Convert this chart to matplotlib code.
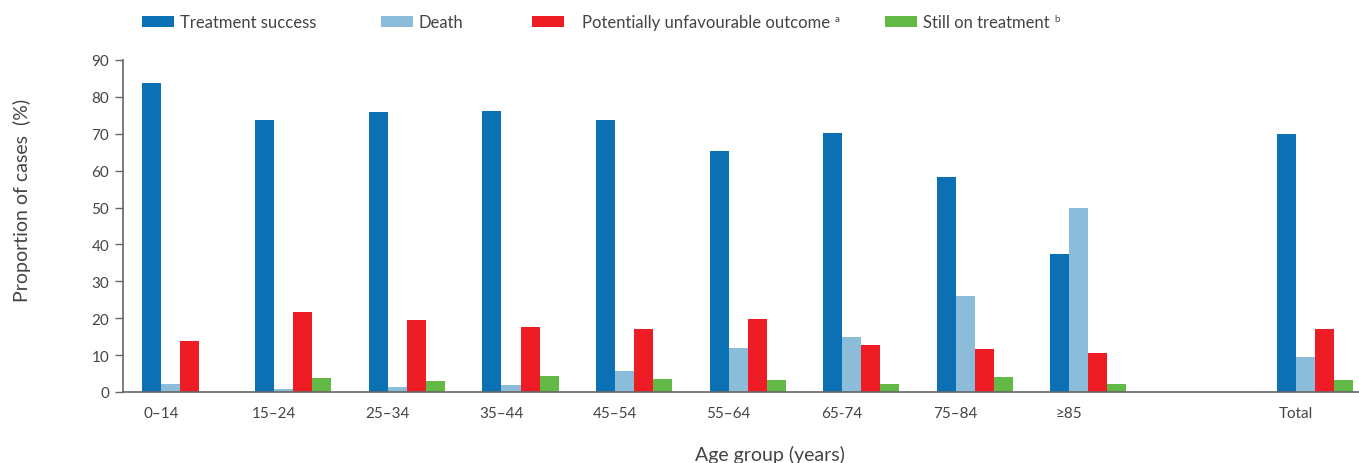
import numpy as np
import matplotlib.pyplot as plt
from matplotlib.patches import Rectangle

plt.rcParams['font.family'] = ['Lato', 'DejaVu Sans']

age_groups = ['0–14', '15–24', '25–34', '35–44', '45–54', '55–64', '65-74', '75–84', '≥85', 'Total']
group_pos = [0, 1, 2, 3, 4, 5, 6, 7, 8, 10]

treatment_success = [83.8, 73.8, 76.0, 76.3, 73.8, 65.2, 70.3, 58.4, 37.3, 70.0]
death = [2.2, 0.8, 1.4, 1.9, 5.7, 12.0, 14.8, 25.9, 49.8, 9.4]
unfavourable = [13.8, 21.6, 19.5, 17.6, 17.0, 19.8, 12.7, 11.6, 10.7, 17.0]
still_on = [0.0, 3.8, 3.0, 4.3, 3.5, 3.2, 2.1, 4.0, 2.1, 3.2]

series = [treatment_success, death, unfavourable, still_on]
colors = ['#0b71b4', '#8bbcd9', '#ee1c25', '#62b946']
labels = ['Treatment success', 'Death', 'Potentially unfavourable outcome', 'Still on treatment']
notes = ['', '', 'a', 'b']

text_col = '#444444'
axis_col = '#666666'

fig = plt.figure(figsize=(13.59, 4.64), dpi=100)
ax = fig.add_axes([123 / 1359, 71 / 464, 1236 / 1359, 332 / 464])

w = 0.1675
x = np.array(group_pos, dtype=float)
for i, (vals, c) in enumerate(zip(series, colors)):
    ax.bar(x + i * w, vals, width=w, align='edge', color=c, linewidth=0)

ax.set_xlim(-0.166, 10.72)
ax.set_ylim(0, 90)
ax.set_yticks(range(0, 91, 10))
ax.set_xticks(x + w)
ax.set_xticklabels(age_groups)
ax.tick_params(axis='x', length=0, pad=10, labelsize=11, labelcolor=text_col)
ax.tick_params(axis='y', length=6, width=1, color=axis_col, pad=4, labelsize=11,
               labelcolor=text_col)

for s in ['top', 'right']:
    ax.spines[s].set_visible(False)
for s in ['left', 'bottom']:
    ax.spines[s].set_color(axis_col)
    ax.spines[s].set_linewidth(1.2)

fig.text(22 / 1359, 0.567, 'Proportion of cases  (%)', rotation=90, ha='center', va='center',
         fontsize=14, color=text_col)
fig.text(770 / 1359, 9 / 464, 'Age group (years)', ha='center', va='center',
         fontsize=14, color=text_col)

# legend along the top
leg_x = [142, 381, 532, 885]
for lx, c, lab, note in zip(leg_x, colors, labels, notes):
    fig.add_artist(Rectangle((lx / 1359, 1 - 28 / 464), 32 / 1359, 11 / 464,
                             transform=fig.transFigure, color=c, linewidth=0))
    tx = lx + 38 if lx != 532 else lx + 50
    t = fig.text(tx / 1359, 1 - 23 / 464, lab, ha='left', va='center',
                 fontsize=12, color=text_col)
    if note:
        fig.canvas.draw()
        bb = t.get_window_extent()
        fig.text((bb.x1 + 5) / 1359, 1 - 20 / 464, note, ha='left', va='center',
                 fontsize=7, color=text_col)

fig.savefig('out.png', dpi=100)
